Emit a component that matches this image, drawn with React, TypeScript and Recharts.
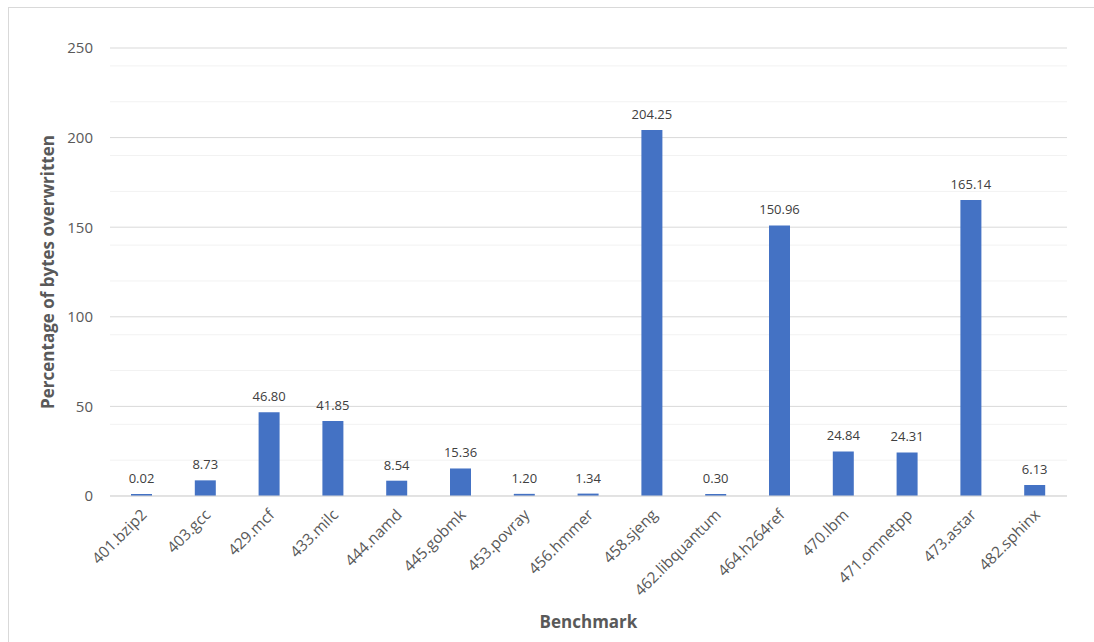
import React from "react";
import { BarChart, Bar, XAxis, YAxis, CartesianGrid, LabelList } from "recharts";

const categories = [
  "401.bzip2", "403.gcc", "429.mcf", "433.milc", "444.namd", "445.gobmk", "453.povray",
  "456.hmmer", "458.sjeng", "462.libquantum", "464.h264ref", "470.lbm", "471.omnetpp",
  "473.astar", "482.sphinx",
];
const values = [0.02, 8.73, 46.8, 41.85, 8.54, 15.36, 1.2, 1.34, 204.25, 0.3, 150.96, 24.84, 24.31, 165.14, 6.13];
const majorTicks = [0, 50, 100, 150, 200, 250];
const minorTicks = [10, 20, 30, 40, 60, 70, 80, 90, 110, 120, 130, 140, 160, 170, 180, 190, 210, 220, 230, 240];

const data = categories.map((name, i) => ({ name, value: values[i] }));

const FONT = "'Open Sans', 'Noto Sans', sans-serif";
const GRAY = "#595959";

const XTick = (props: any) => {
  const { x, y, payload } = props;
  return (
    <g transform={`translate(${x + 2},${y + 8})`}>
      <text
        x={0}
        y={0}
        dy="0.35em"
        textAnchor="end"
        transform="rotate(-45)"
        fill={GRAY}
        fontSize={15.5}
        fontFamily={FONT}
      >
        {payload.value}
      </text>
    </g>
  );
};

export default function App() {
  return (
    <div
      style={{
        position: "absolute",
        left: 8,
        top: 7,
        width: 1200,
        height: 800,
        border: "1px solid #d9d9d9",
        background: "#fff",
      }}
    >
      <div style={{ position: "absolute", left: -9, top: -8 }}>
        <BarChart
          width={1094}
          height={642}
          data={data}
          margin={{ top: 48, right: 27, left: 0, bottom: 0 }}
          barSize={21}
        >
          <CartesianGrid vertical={false} stroke="#f2f2f2" horizontalValues={minorTicks} />
          <CartesianGrid vertical={false} stroke="#d9d9d9" horizontalValues={majorTicks} />
          <XAxis
            dataKey="name"
            height={146}
            tickLine={false}
            axisLine={{ stroke: "#d9d9d9" }}
            interval={0}
            tick={<XTick />}
            label={{
              value: "Benchmark",
              position: "insideBottom",
              offset: 14,
              style: { fill: GRAY, fontSize: 17, fontWeight: 700, fontFamily: FONT },
            }}
          />
          <YAxis
            width={110}
            domain={[0, 250]}
            ticks={majorTicks}
            axisLine={false}
            tickLine={false}
            tickSize={0}
            tickMargin={17}
            tick={{ fill: GRAY, fontSize: 15, fontFamily: FONT }}
            label={{
              value: "Percentage of bytes overwritten",
              angle: -90,
              position: "insideLeft",
              offset: 48,
              style: { fill: GRAY, fontSize: 17, fontWeight: 700, fontFamily: FONT, textAnchor: "middle" },
            }}
          />
          <Bar dataKey="value" fill="#4472C4" minPointSize={2} isAnimationActive={false}>
            <LabelList
              dataKey="value"
              position="top"
              offset={11}
              formatter={(v: any) => Number(v).toFixed(2)}
              style={{ fill: "#404040", fontSize: 13, fontFamily: FONT }}
            />
          </Bar>
        </BarChart>
      </div>
    </div>
  );
}
